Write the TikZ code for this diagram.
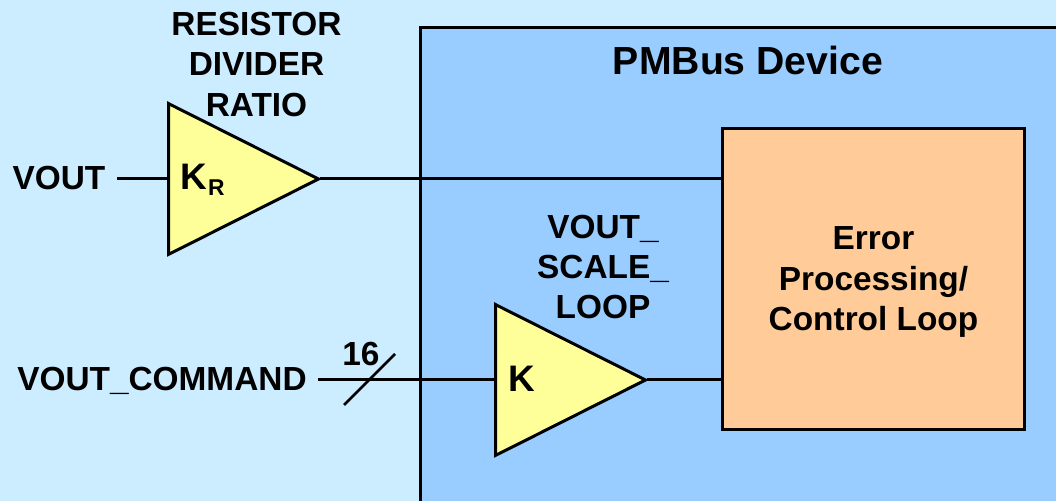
\documentclass[tikz,border=0pt]{standalone}
\usepackage{fontspec}
\setmainfont{Liberation Sans}
\usepackage{tikz}
\usetikzlibrary{calc,shapes.geometric}
\definecolor{pagecolor}{HTML}{CCECFF}
\definecolor{devicecolor}{HTML}{99CCFF}
\definecolor{gaincolor}{HTML}{FFFF99}
\definecolor{loopcolor}{HTML}{FFCC99}
\tikzset{
  wire/.style={line width=0.06cm},
  label/.style={font=\fontsize{19}{22.8}\selectfont\bfseries,align=center,inner sep=0pt},
  gainlabel/.style={font=\fontsize{21}{24}\selectfont\bfseries,inner sep=0pt,anchor=base west},
  gain/.style={isosceles triangle,isosceles triangle apex angle=53.4,draw,line width=0.06cm,fill=gaincolor,
    minimum height=3cm,inner sep=0pt,shape border rotate=0,anchor=lower side}
}
\newcommand{\gainsub}[1]{\hspace{0.6pt}\raisebox{-3.4pt}{\fontsize{13}{14}\selectfont #1}}

\begin{document}
\begin{tikzpicture}
          \useasboundingbox (0,0) rectangle (21.12,10.02);
          \fill[pagecolor] (0,0) rectangle (21.12,10.02);
          % device outline runs off the page
          \filldraw[wire,fill=devicecolor] (8.40,-0.2) -- (8.40,9.46) -- (21.4,9.46) -- (21.4,-0.2) -- cycle;
          \node[draw,wire,fill=loopcolor,minimum width=6.04cm,minimum height=6.02cm,inner sep=0pt] (loop) at (17.47,4.43) {};
          \node[gain] (kr) at (3.34,6.44) {};
          \node[gain] (k) at (9.88,2.42) {};
          \coordinate (vin) at (2.37,6.44);
          \coordinate (cmdin) at (6.39,2.42);
          \coordinate (tickA) at (6.88,1.92);
          \coordinate (tickB) at (7.90,2.94);
          \begin{scope}[wire,line cap=rect]
            \draw (vin) -- (kr.lower side);
            \draw (kr.apex) -- (loop.west |- kr.apex);
            \draw (cmdin) -- (k.lower side);
            \draw (k.apex) -- (loop.west |- k.apex);
          \end{scope}
          \draw[line width=0.05cm] (tickA) -- (tickB);
          \node[label] (divider) at (5.13,8.73) {RESISTOR\\DIVIDER\\RATIO};
          \node[label] (vout) at (1.18,6.46) {VOUT};
          \node[gainlabel] (krtext) at (3.60,6.22) {K\gainsub{R}};
          \node[label,font=\fontsize{22.3}{26}\selectfont\bfseries] (device) at (14.96,8.80) {PMBus Device};
          \node[label] (scale) at (12.06,4.68) {VOUT\_\\SCALE\_\\LOOP};
          \node[label] (error) at (17.47,4.38) {Error\\Processing/\\Control Loop};
          \node[label,anchor=east] (cmd) at (6.14,2.40) {VOUT\_COMMAND};
          \node[label] (width) at (7.22,2.94) {16};
          \node[gainlabel] (ktext) at (10.16,2.18) {K};
        \end{tikzpicture}
\end{document}
